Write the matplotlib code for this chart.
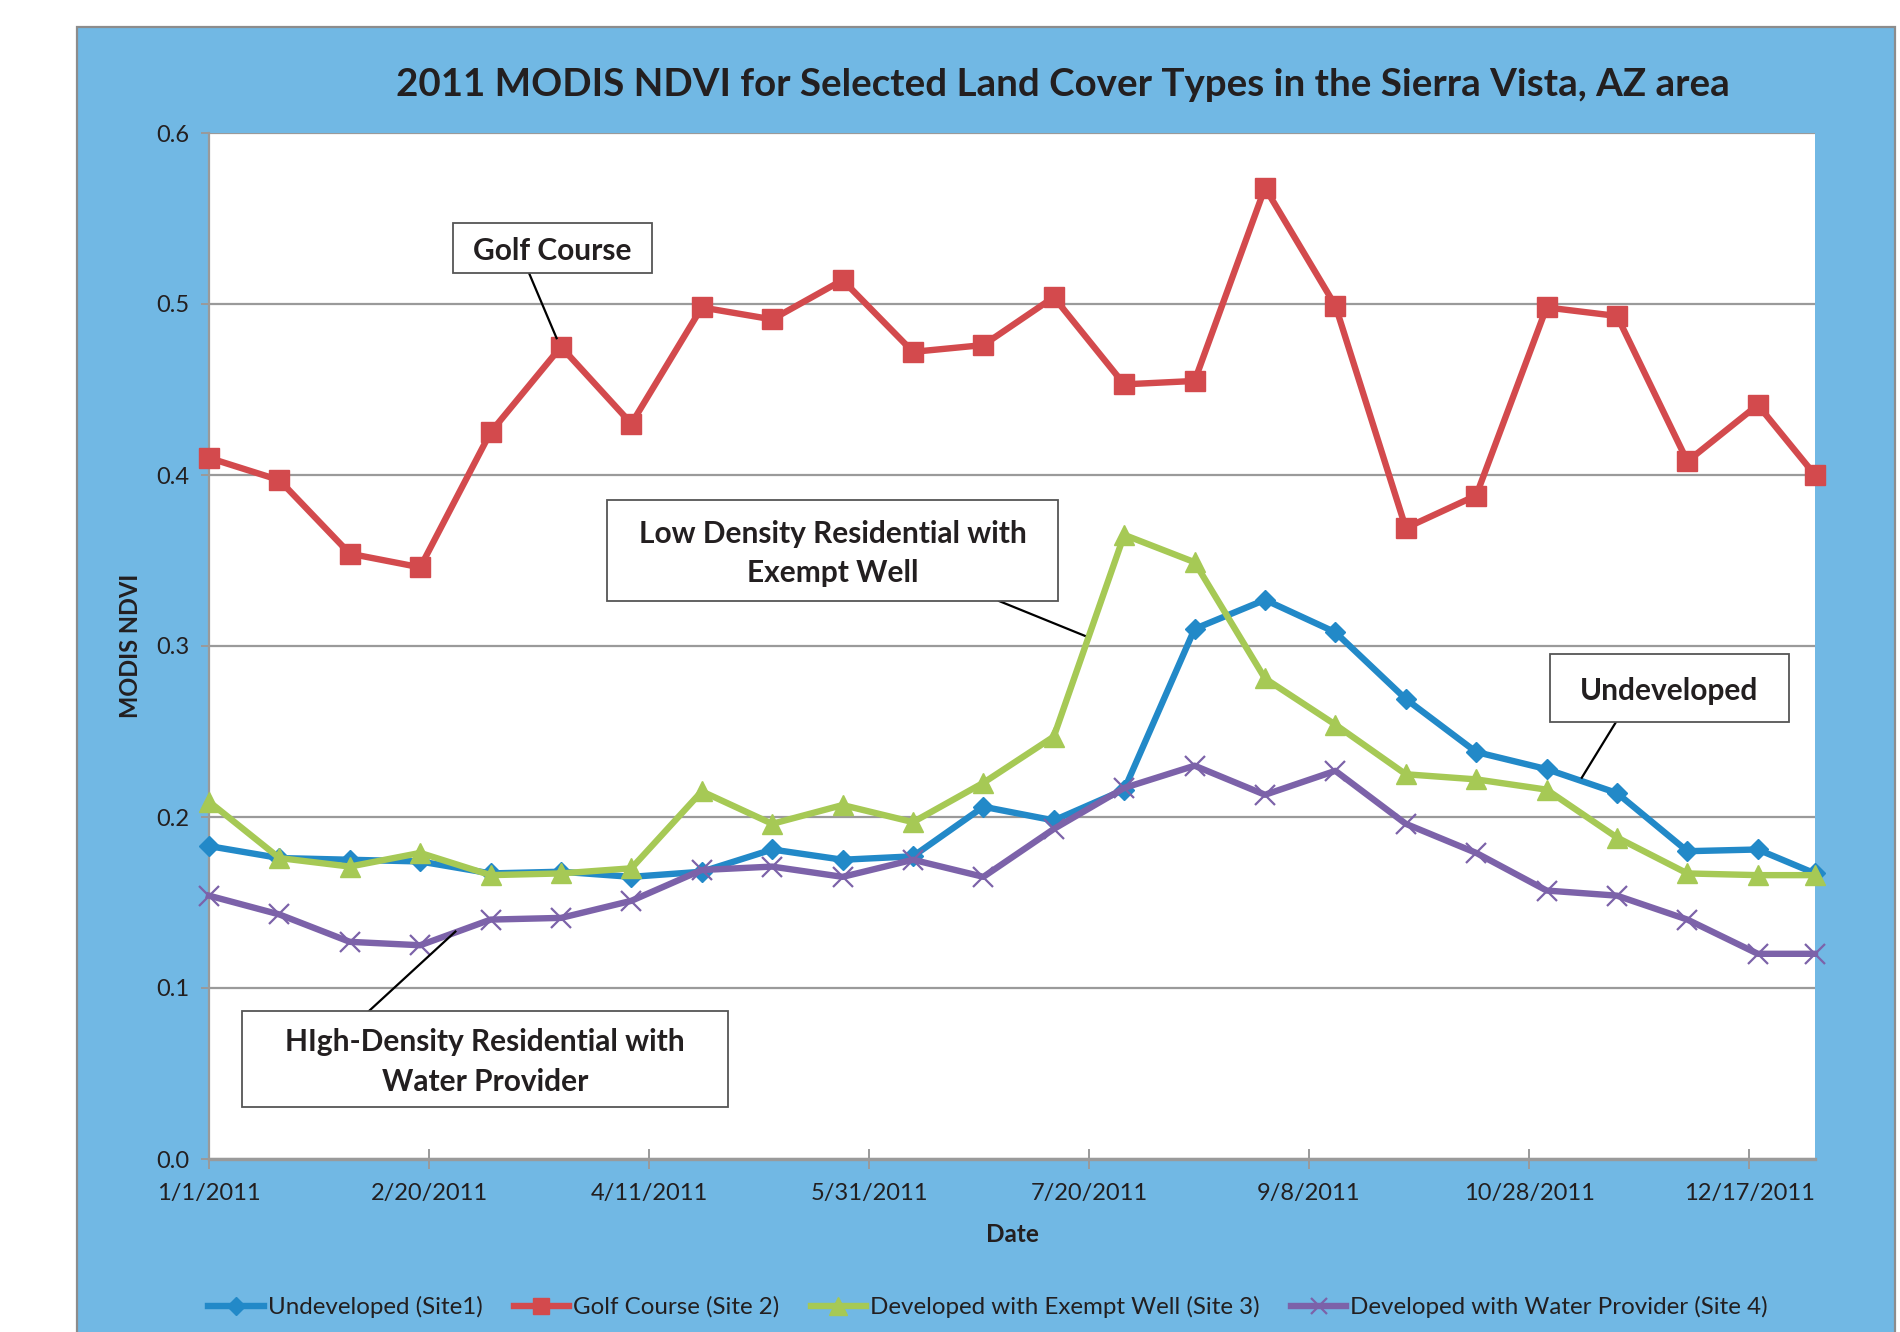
import datetime as dt
import matplotlib
matplotlib.use("Agg")
import matplotlib.pyplot as plt
import matplotlib.dates as mdates
from matplotlib.patches import Rectangle
from matplotlib.lines import Line2D

plt.rcParams["font.family"] = ["Lato", "DejaVu Sans"]

# 16-day MODIS composite dates for 2011 plus the first 2012 composite
composite_dates = ["2011-01-01", "2011-01-17", "2011-02-02", "2011-02-18", "2011-03-06",
                   "2011-03-22", "2011-04-07", "2011-04-23", "2011-05-09", "2011-05-25",
                   "2011-06-10", "2011-06-26", "2011-07-12", "2011-07-28", "2011-08-13",
                   "2011-08-29", "2011-09-14", "2011-09-30", "2011-10-16", "2011-11-01",
                   "2011-11-17", "2011-12-03", "2011-12-19", "2012-01-01"]

undeveloped = [0.183, 0.176, 0.175, 0.174, 0.167, 0.168, 0.165, 0.168, 0.181, 0.175,
               0.177, 0.206, 0.198, 0.216, 0.310, 0.327, 0.308, 0.269, 0.238, 0.228,
               0.214, 0.180, 0.181, 0.167]
golf_course = [0.410, 0.397, 0.354, 0.346, 0.425, 0.475, 0.430, 0.498, 0.491, 0.514,
               0.472, 0.476, 0.504, 0.453, 0.455, 0.568, 0.499, 0.369, 0.388, 0.498,
               0.493, 0.408, 0.441, 0.400]
exempt_well = [0.209, 0.176, 0.171, 0.179, 0.166, 0.167, 0.170, 0.215, 0.196, 0.207,
               0.197, 0.220, 0.247, 0.365, 0.349, 0.281, 0.254, 0.225, 0.222, 0.216,
               0.188, 0.167, 0.166, 0.166]
water_provider = [0.154, 0.143, 0.127, 0.125, 0.140, 0.141, 0.151, 0.169, 0.171, 0.165,
                  0.175, 0.165, 0.193, 0.217, 0.230, 0.213, 0.227, 0.196, 0.179, 0.157,
                  0.154, 0.140, 0.120, 0.120]

series_names = ["Undeveloped (Site1)", "Golf Course (Site 2)",
                "Developed with Exempt Well (Site 3)", "Developed with Water Provider (Site 4)"]
y_ticks = [0.0, 0.1, 0.2, 0.3, 0.4, 0.5, 0.6]
tick_step_days = 50

W, H = 1900, 1332
fig = plt.figure(figsize=(W / 100, H / 100), dpi=100)
fig.patch.set_facecolor("white")

PANEL = "#71B8E4"
GRID = "#9A9A9A"
TEXT = "#231F20"

# chart area background
fig.add_artist(Rectangle((77 / W, -0.01), (1895 - 77) / W, 1 - 27 / H + 0.01,
                         transform=fig.transFigure, facecolor=PANEL,
                         edgecolor="#8C8C8C", linewidth=1.6, zorder=0))

ax = fig.add_axes([209 / W, 1 - 1159 / H, (1815 - 209) / W, (1159 - 133) / H])
ax.set_facecolor("white")

dates = [dt.datetime.strptime(d, "%Y-%m-%d") for d in composite_dates]

styles = [
    (undeveloped, "#2289C8", "D", 10.5, dict()),
    (golf_course, "#D34A4D", "s", 14, dict()),
    (exempt_well, "#A6C955", "^", 15, dict()),
    (water_provider, "#7C62A9", "x", 14, dict(markeredgewidth=1.6)),
]
handles = []
for (vals, color, marker, ms, extra), name in zip(styles, series_names):
    line, = ax.plot(dates, vals, color=color, linewidth=4.6, marker=marker,
                    markersize=ms, markerfacecolor=color, markeredgecolor=color,
                    label=name, zorder=3, clip_on=False, **extra)
    handles.append(line)

start = dates[0]
ax.set_xlim(start, dates[-1])
ax.set_ylim(0, 0.6)
ax.set_yticks(y_ticks)
ax.set_yticklabels([f"{v:.1f}" for v in y_ticks])
xt = [start + dt.timedelta(days=tick_step_days * k) for k in range(8)]
ax.set_xticks(xt)
ax.set_xticklabels([f"{d.month}/{d.day}/{d.year}" for d in xt])

ax.grid(axis="y", color=GRID, linewidth=1.6, zorder=1)
ax.set_axisbelow(True)
for s in ["top", "right"]:
    ax.spines[s].set_visible(False)
ax.spines["left"].set_color(GRID)
ax.spines["left"].set_linewidth(1.6)
ax.spines["bottom"].set_color(GRID)
ax.spines["bottom"].set_linewidth(2.4)
ax.tick_params(axis="y", direction="out", length=6, width=1.4, color=GRID,
               labelsize=17, labelcolor=TEXT, pad=8)
ax.tick_params(axis="x", direction="inout", length=14, width=1.4, color=GRID,
               labelsize=17, labelcolor=TEXT, pad=10)

ax.set_xlabel("Date", fontsize=17.5, fontweight="bold", color=TEXT, labelpad=14)
ax.set_ylabel("MODIS NDVI", fontsize=17, fontweight="bold", color=TEXT, labelpad=10)

fig.text(1063 / W, 1 - 85 / H,
         "2011 MODIS NDVI for Selected Land Cover Types in the Sierra Vista, AZ area",
         ha="center", va="center", fontsize=27.7, fontweight="bold", color=TEXT)

# callout boxes: (left, top, right, bottom) in pixels, text, leader start (px), leader tip (date, value)
callouts = [
    ((453, 223, 652, 273), "Golf Course", (529, 273), (start + dt.timedelta(days=79), 0.480)),
    ((607, 500, 1058, 601), "Low Density Residential with\nExempt Well", (999, 601),
     (start + dt.timedelta(days=199), 0.306)),
    ((1550, 654, 1789, 722), "Undeveloped", (1616, 722), (start + dt.timedelta(days=312), 0.223)),
    ((242, 1011, 728, 1107), "HIgh-Density Residential with\nWater Provider", (369, 1011),
     (start + dt.timedelta(days=56), 0.133)),
]
for (l, t, r, b), label, (sx, sy), (tx, ty) in callouts:
    fig.add_artist(Rectangle((l / W, 1 - b / H), (r - l) / W, (b - t) / H,
                             transform=fig.transFigure, facecolor="white",
                             edgecolor="#555555", linewidth=1.3, zorder=5))
    fig.text((l + r) / 2 / W, 1 - ((t + b) / 2 + 3) / H, label, ha="center", va="center",
             fontsize=21.5, fontweight="bold", color=TEXT, linespacing=1.5, zorder=6)
    tip = ax.transData.transform((mdates.date2num(tx), ty))
    tip_fig = fig.transFigure.inverted().transform(tip)
    fig.add_artist(Line2D([sx / W, tip_fig[0]], [1 - sy / H, tip_fig[1]],
                          transform=fig.transFigure, color="black", linewidth=1.6, zorder=4))

fig.legend(handles=handles, loc="center", bbox_to_anchor=(988 / W, 1 - 1307 / H),
           ncol=4, frameon=False, fontsize=17.4, handlelength=2.3, handletextpad=0.15,
           columnspacing=1.3, labelcolor=TEXT, markerscale=0.85)

fig.savefig("out.png", dpi=100, facecolor=fig.get_facecolor())
